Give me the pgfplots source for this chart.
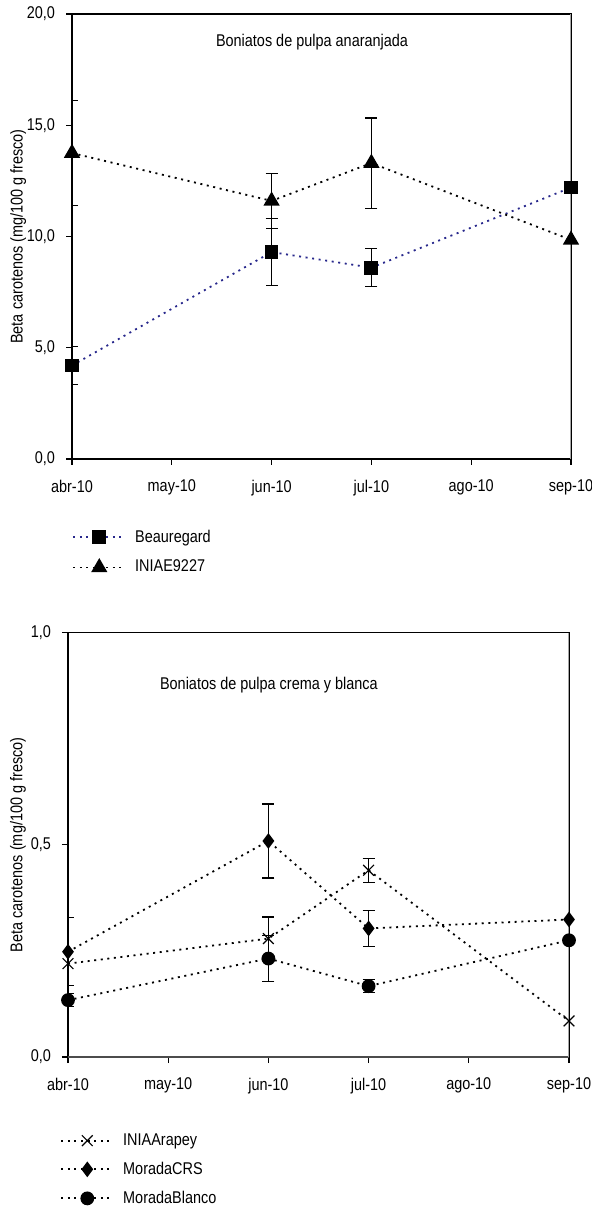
\documentclass[border=0pt]{standalone}
\usepackage{fontspec}
\setmainfont{Liberation Sans}[FakeStretch=0.85]
\usepackage{pgfplots}
\pgfplotsset{compat=1.18}
\definecolor{beau}{RGB}{40,40,140}
\newcommand{\chartfont}{\fontsize{8.5}{10}\selectfont}

\pgfplotsset{
  boniato/.style={
    scale only axis, anchor=south west,
    xmin=0, xmax=5, xtick={0,...,5},
    xticklabels={abr-10,may-10,jun-10,jul-10,ago-10,sep-10},
    tick pos=left, tick align=outside,
    major tick length=3pt,
    tick style={black, line width=0.6pt},
    axis line style={black, line width=0.7pt},
    tick label style={font=\chartfont},
    label style={font=\chartfont},
    xticklabel style={yshift=-4pt},
    yticklabel style={xshift=-2pt},
    /pgf/number format/.cd, use comma, fixed, fixed zerofill, precision=1,
      assume math mode=true, /pgfplots/.cd,
    legend cell align=left,
    legend style={draw=none, fill=none, anchor=north west, font=\chartfont,
      row sep=3.5pt, /tikz/every odd column/.append style={column sep=2.5pt}},
    legend image code/.code={\draw[mark repeat=2, mark phase=2, #1]
      plot coordinates {(0pt,0pt) (13pt,0pt) (26pt,0pt)};},
  },
  dots/.style={line width=0.9pt, dash pattern=on 1pt off 2.3pt},
  ebar/.style={forget plot, draw=none, mark=none,
    error bars/.cd, y dir=both, y explicit,
    error bar style={black, line width=0.6pt, solid},
    error mark options={rotate=90, mark size=3pt, black, line width=0.6pt, solid}},
}

\begin{document}
\begin{tikzpicture}[font=\chartfont]
\useasboundingbox (0,0) rectangle (295.5pt,603pt);

% pulpa anaranjada
\begin{axis}[boniato,
  at={(36pt,373.5pt)}, width=249.5pt, height=222.5pt,
  ymin=0, ymax=20, ytick={0,5,10,15,20},
  ylabel={Beta carotenos (mg/100 g fresco)},
  ylabel style={at={(axis description cs:-0.108,0.5)}, anchor=center},
  legend style={at={(axis description cs:0,-0.14)}, xshift=-3pt},
]
\addplot[ebar] coordinates {(0,4.2) +- (0,0.85) (2,9.3) +- (0,1.5) (3,8.6) +- (0,0.85)};
\addplot[ebar] coordinates {(0,13.75) +- (0,2.36) (2,11.6) +- (0,1.24) (3,13.3) +- (0,2.03)};
\addplot[beau, dots, mark=square*, mark options={solid, black, mark size=3pt}]
  coordinates {(0,4.2) (2,9.3) (3,8.6) (5,12.2)};
\addlegendentry{Beauregard}
\addplot[black, dots, mark=triangle*, mark options={solid, black, mark size=3.8pt}]
  coordinates {(0,13.75) (2,11.6) (3,13.3) (5,9.85)};
\addlegendentry{INIAE9227}
\draw[gray!70, line width=1pt] (rel axis cs:1,0) -- (rel axis cs:1,1);
\node[font=\chartfont] at (rel axis cs:0.481,0.937) {Boniatos de pulpa anaranjada};
\end{axis}

% pulpa crema y blanca
\begin{axis}[boniato,
  at={(34pt,74.5pt)}, width=250.5pt, height=212.2pt,
  ymin=0, ymax=1, ytick={0,0.5,1},
  ylabel={Beta carotenos (mg/100 g fresco)},
  ylabel style={at={(axis description cs:-0.1,0.5)}, anchor=center},
  legend style={at={(axis description cs:0,-0.16)}, xshift=-7pt, row sep=2.85pt},
]
\addplot[ebar] coordinates {(2,0.279) +- (0,0.051) (3,0.44) +- (0,0.028)};
\addplot[ebar] coordinates {(0,0.248) +- (0,0.08) (2,0.509) +- (0,0.087) (3,0.303) +- (0,0.042)};
\addplot[ebar] coordinates {(0,0.134) +- (0,0.015) (2,0.232) +- (0,0.055) (3,0.167) +- (0,0.015)};
\addplot[black, dots, mark=x, mark options={solid, black, line width=0.6pt, mark size=3.8pt}]
  coordinates {(0,0.22) (2,0.279) (3,0.44) (5,0.085)};
\addlegendentry{INIAArapey}
\addplot[black, dots, mark=diamond*, mark options={solid, black, mark size=3.2pt}]
  coordinates {(0,0.248) (2,0.509) (3,0.303) (5,0.324)};
\addlegendentry{MoradaCRS}
\addplot[black, dots, mark=*, mark options={solid, black, mark size=3pt}]
  coordinates {(0,0.134) (2,0.232) (3,0.167) (5,0.275)};
\addlegendentry{MoradaBlanco}
\draw[black!70, line width=0.8pt] (rel axis cs:0,0) -- (rel axis cs:1,0);
\draw[gray!70, line width=1pt] (rel axis cs:1,0) -- (rel axis cs:1,1);
\node[font=\chartfont] at (rel axis cs:0.401,0.876) {Boniatos de pulpa crema y blanca};
\end{axis}
\end{tikzpicture}
\end{document}
